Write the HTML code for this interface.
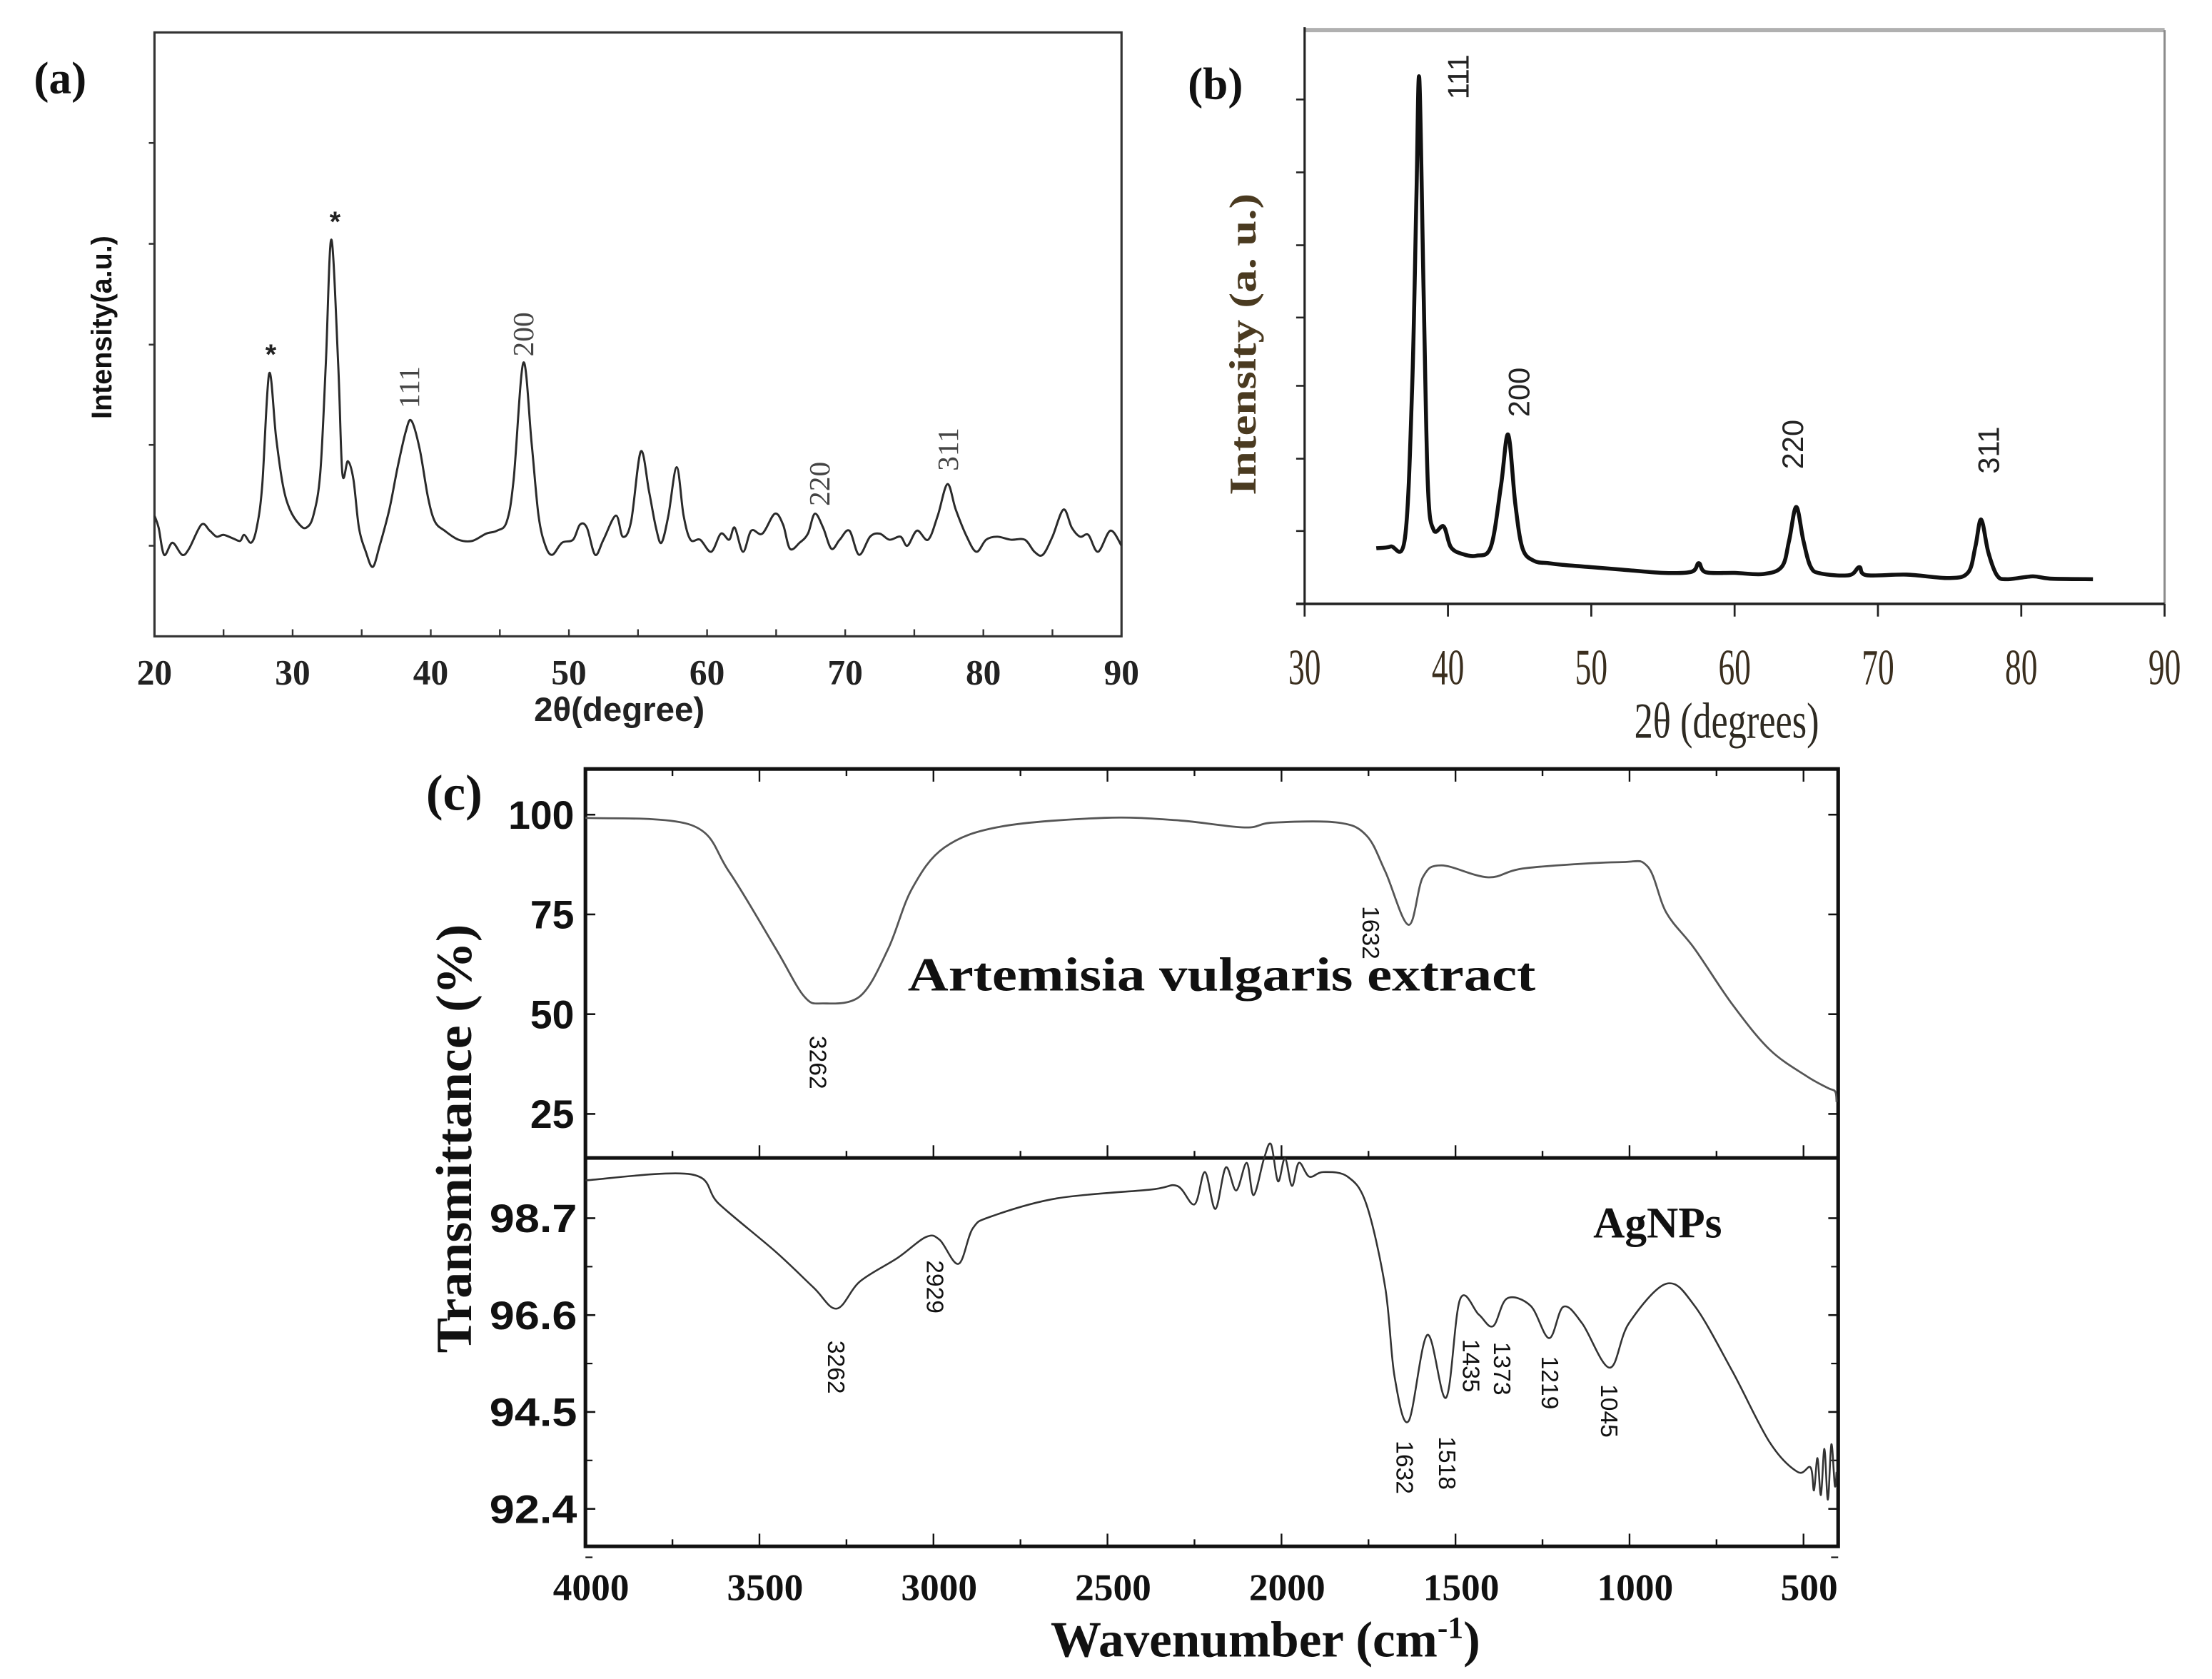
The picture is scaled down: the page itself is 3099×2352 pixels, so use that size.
<!DOCTYPE html>
<html><head><meta charset="utf-8"><style>
html,body{margin:0;padding:0;background:#fff;}
svg{display:block;}
.ser{font-family:"Liberation Serif",serif;font-weight:bold;}
.san{font-family:"Liberation Sans",sans-serif;}
</style></head><body>
<svg id="fig" width="3099" height="2352" viewBox="0 0 1568 1190" preserveAspectRatio="none" xmlns="http://www.w3.org/2000/svg">
<rect x="0" y="0" width="1568" height="1190" fill="#fff"/>
<g id="pa"></g>
<g id="pb"></g>
<g id="pc"></g>
</svg>
<script>
// ---------- Panel (a) data ----------
const aTheta = [20,20.3,20.7,21.3,22,22.5,23.4,24,24.5,25,25.7,26.2,26.5,27,27.4,27.8,28.3,28.8,29.3,29.8,30.5,31,31.5,32,32.4,32.8,33.3,33.6,34,34.4,34.8,35.3,35.8,36.3,37,37.6,38.2,38.6,39.2,39.8,40.3,41,42,43,44,44.8,45.5,46,46.7,47.3,47.8,48.3,48.8,49.5,50.3,50.8,51.3,51.9,52.5,53.4,53.9,54.5,55.2,55.8,56.3,56.7,57.2,57.8,58.3,58.8,59.5,60.3,61,61.6,62,62.6,63.2,64,64.9,65.5,66,66.7,67.3,67.8,68.4,69,69.6,70.3,71,71.8,72.5,73.2,74,74.5,75.2,76,76.7,77.4,78,78.8,79.5,80.2,81,82,83,83.7,84.3,85,85.8,86.4,87,87.6,88.3,89.2,90];
const aInt = [20,18,13.5,15.5,13.5,14.5,18.5,17.5,16.5,16.8,16.2,15.8,16.8,15.5,18,25,43.5,33,25,21,18.5,18,20,27,45,65.7,45,27,29,26,18,14,11.5,15,21,28,34,35.7,31,23,19,17.5,16,15.8,17,17.5,19,26,45.3,32,20,15,13.5,15.5,16,18.5,18,13.5,16,20,16.5,19,30.6,24,18,15.5,20,28,20,16,16,14,17,16,18,14,17.5,17,20.3,18.5,14.5,15.5,17,20.3,18,14.5,16,17.5,13.5,16.5,17,16,16.5,15,17.5,16,20,25.2,21,16.5,14,16,16.5,16,16,14,13.5,16.5,21,18,16.5,16.8,14,17.5,15];
const aXTicks = [20,30,40,50,60,70,80,90];
const aYTickVals = [15,31.7,48.3,65,81.7];
// ---------- Panel (b) data ----------
const bTheta = [35,36,37,37.5,37.8,38,38.3,38.6,39,39.7,40.2,41,42,43,43.7,44.2,44.7,45.2,46,47,48,50,52,55,57,57.5,58,60,62,63.3,63.8,64.3,64.8,65.3,66,68,68.7,69.2,72,75,76.3,76.8,77.2,77.7,78.3,79,80.8,82,85];
const bInt = [9.7,10,11.5,37.6,71,91.6,54.5,20.6,12.9,13.5,9.9,8.7,8.4,10,20.6,29.5,17.4,9.7,7.5,7.1,6.8,6.4,6,5.4,5.6,7.1,5.5,5.4,5.2,6.5,11,16.9,11,6.5,5.3,5,6.4,5,5.1,4.5,5.5,10,14.7,9,5,4.3,4.8,4.4,4.3];
const bXTicks = [30,40,50,60,70,80,90];
const bYTickVals = [87.9,75.2,62.5,49.9,38,25.3,12.7];
// ---------- Panel (c) data ----------
const cTopWn = [4000,3696,3588,3453,3372,3318,3211,3130,3062,2968,2807,2510,2300,2106,2025,1837,1756,1702,1635,1594,1540,1406,1298,1029,948,894,813,705,597,490,430,409,405];
const cTopT = [99.2,97.4,85.8,66.4,54.5,52.7,54.5,66.4,81.4,91.8,97,99.2,98.6,96.8,98,98,94.8,85.8,72.4,84.3,87.3,84.3,86.6,88.1,87,75.4,66.4,52.5,41.1,34.4,31.5,30.6,28];
const cBotWn = [4000,3696,3615,3453,3345,3278,3211,3103,3022,2982,2928,2887,2833,2645,2376,2300,2250,2220,2190,2160,2130,2100,2080,2050,2030,2010,1990,1970,1950,1920,1880,1810,1756,1702,1675,1635,1581,1527,1487,1433,1392,1352,1284,1231,1190,1136,1057,1002,894,813,705,597,517,480,470,460,450,440,430,420,410,405];
const cBotT = [99.52,99.65,99.0,97.97,97.2,96.74,97.33,97.84,98.29,98.23,97.71,98.48,98.74,99.13,99.32,99.4,99.0,99.7,98.9,99.8,99.3,99.9,99.2,100.0,100.3,99.5,100.0,99.4,99.9,99.6,99.7,99.6,99.0,97.2,95.26,94.3,96.17,94.81,96.94,96.61,96.36,96.96,96.8,96.1,96.78,96.42,95.46,96.42,97.28,96.8,95.39,93.84,93.2,93.3,92.8,93.5,92.7,93.7,92.6,93.8,92.9,93.2];
const cXTicks = [4000,3500,3000,2500,2000,1500,1000,500];
const cTopYTicks = [100,75,50,25];
const cBotYTicks = [98.7,96.6,94.5,92.4];

const NS='http://www.w3.org/2000/svg';
function mk(parent,tag,attrs,text){const e=document.createElementNS(NS,tag);for(const k in attrs)e.setAttribute(k,attrs[k]);if(text!==undefined)e.textContent=text;parent.appendChild(e);return e;}
// smooth Catmull-Rom path through the data points
function pathFrom(xs,ys,fx,fy){
 const P=xs.map((v,i)=>[fx(v),fy(ys[i])]);
 let d='M'+P[0][0].toFixed(2)+','+P[0][1].toFixed(2);
 for(let i=0;i<P.length-1;i++){
  const p0=P[Math.max(0,i-1)],p1=P[i],p2=P[i+1],p3=P[Math.min(P.length-1,i+2)];
  const c1=[p1[0]+(p2[0]-p0[0])/6,p1[1]+(p2[1]-p0[1])/6];
  const c2=[p2[0]-(p3[0]-p1[0])/6,p2[1]-(p3[1]-p1[1])/6];
  d+='C'+c1[0].toFixed(2)+','+c1[1].toFixed(2)+' '+c2[0].toFixed(2)+','+c2[1].toFixed(2)+' '+p2[0].toFixed(2)+','+p2[1].toFixed(2);
 }
 return d;}

// ===== Panel a =====
(function(){
const g=document.getElementById('pa');
const L=109.5,R=795,T=23,B=451;
const x=v=>L+(v-20)/70*(R-L);
const y=v=>B-v*4.28;
let e=mk(g,'rect',{x:L,y:T,width:R-L,height:B-T,fill:'none',stroke:'#333','stroke-width':1.6});

for(let v=25;v<90;v+=5){const t=mk(g,'line',{x1:x(v),x2:x(v),y1:B,y2:B-5,stroke:'#333','stroke-width':1.2});
 }
aYTickVals.forEach(v=>{const t=mk(g,'line',{x1:L-4,x2:L,y1:y(v),y2:y(v),stroke:'#333','stroke-width':1.3});
 });
aXTicks.forEach(v=>{const t=mk(g,'text',{x:x(v),y:485,'text-anchor':'middle','font-size':25,class:'ser',fill:'#222'},String(v));
 });
e=mk(g,'path',{d:pathFrom(aTheta,aInt,x,y),fill:'none',stroke:'#2a2a2a','stroke-width':1.5,'stroke-linejoin':'round'});

e=mk(g,'text',{x:439,y:511,'text-anchor':'middle','font-size':24,class:'san','font-weight':'bold',fill:'#222'},'2θ(degree)');

e=mk(g,'text',{x:0,y:0,'text-anchor':'middle','font-size':20,class:'san','font-weight':'bold',fill:'#111',transform:'translate(79,232) rotate(-90)'},'Intensity(a.u.)');

e=mk(g,'text',{x:24,y:66,'font-size':32,class:'ser',fill:'#111'},'(a)');

[[192,258],[237.5,164]].forEach(p=>{const s=mk(g,'text',{x:p[0],y:p[1],'text-anchor':'middle','font-size':20,class:'san','font-weight':'bold',fill:'#222'},'*');
 });
[['111',290,274.5],['200',371,237],['220',581,343],['311',672,318.5]].forEach(p=>{
 const s=mk(g,'text',{x:0,y:0,'text-anchor':'middle','font-size':21,'font-family':'"Liberation Serif",serif',fill:'#444',transform:`translate(${p[1]+7},${p[2]}) rotate(-90)`},p[0]);
 });
})();

// ===== Panel b =====
(function(){
const g=document.getElementById('pb');
const L=924.8,R=1534.4,T=21.3,B=428;
const x=v=>L+(v-30)/60*(R-L);
const y=v=>B-v*(B-T)/100;
let e=mk(g,'line',{x1:L,x2:R,y1:T,y2:T,stroke:'#b0b0b0','stroke-width':3});

e=mk(g,'line',{x1:R,x2:R,y1:T,y2:B,stroke:'#8a8a8a','stroke-width':1.5});

e=mk(g,'line',{x1:L,x2:L,y1:T-2,y2:B,stroke:'#222','stroke-width':1.6});

e=mk(g,'line',{x1:L-6,x2:R,y1:B,y2:B,stroke:'#222','stroke-width':1.8});

bXTicks.forEach(v=>{const t=mk(g,'line',{x1:x(v),x2:x(v),y1:B,y2:B+9,stroke:'#222','stroke-width':1.4});
 
 const l=mk(g,'text',{x:x(v),y:485,'text-anchor':'middle','font-size':36,'font-family':'"Liberation Serif",serif',fill:'#3a2e1e',textLength:23,lengthAdjust:'spacingAndGlyphs'},String(v));
 });
bYTickVals.forEach(v=>{const t=mk(g,'line',{x1:L-6,x2:L,y1:y(v),y2:y(v),stroke:'#222','stroke-width':1.3});
 });
e=mk(g,'path',{d:pathFrom(bTheta,bInt,x,y),fill:'none',stroke:'#111','stroke-width':2.8,'stroke-linejoin':'round'});

e=mk(g,'text',{x:1224,y:523,'text-anchor':'middle','font-size':36,'font-family':'"Liberation Serif",serif',fill:'#2e2a22',textLength:131,lengthAdjust:'spacingAndGlyphs'},'2θ (degrees)');

e=mk(g,'text',{x:0,y:0,'text-anchor':'middle','font-size':27,class:'ser',fill:'#4a3a20',textLength:214,lengthAdjust:'spacingAndGlyphs',transform:'translate(890,244) rotate(-90)'},'Intensity (a. u.)');

e=mk(g,'text',{x:842,y:70,'font-size':32,class:'ser',fill:'#111'},'(b)');

[['111',1034,54.5],['200',1077,278],['220',1271,315],['311',1410,319]].forEach(p=>{
 const s=mk(g,'text',{x:0,y:0,'text-anchor':'middle','font-size':21,class:'san',fill:'#222',transform:`translate(${p[1]+7},${p[2]}) rotate(-90)`},p[0]);
 });
})();

// ===== Panel c =====
(function(){
const g=document.getElementById('pc');
const L=415,R=1303,T=545,M=820.7,B=1096;
const x=w=>L+(4000-w)*0.2467;
const yt=v=>577.4+(100-v)*2.828;
const yb=v=>863.4+(98.7-v)*32.7;
let e=mk(g,'rect',{x:L,y:T,width:R-L,height:B-T,fill:'none',stroke:'#111','stroke-width':2.6});

e=mk(g,'line',{x1:L,x2:R,y1:M,y2:M,stroke:'#111','stroke-width':2.6});

for(let w=4000;w>=500;w-=250){const maj=(w%500===0);
 [[B,-1],[M,-1],[T,1]].forEach(p=>{const t=mk(g,'line',{x1:x(w),x2:x(w),y1:p[0],y2:p[0]+p[1]*(maj?9:5),stroke:'#111','stroke-width':1.2});
 });}
cXTicks.forEach(w=>{const l=mk(g,'text',{x:x(w)+4,y:1134,'text-anchor':'middle','font-size':27,class:'ser',fill:'#111'},String(w));
 });
cTopYTicks.forEach(v=>{[[L,1],[R,-1]].forEach(p=>{const t=mk(g,'line',{x1:p[0],x2:p[0]+p[1]*7,y1:yt(v),y2:yt(v),stroke:'#111','stroke-width':1.3});
 });
 const l=mk(g,'text',{x:407,y:yt(v)+10,'text-anchor':'end','font-size':28,class:'san','font-weight':'bold',fill:'#111'},String(v));
 });
cBotYTicks.forEach(v=>{[[L,1],[R,-1]].forEach(p=>{const t=mk(g,'line',{x1:p[0],x2:p[0]+p[1]*7,y1:yb(v),y2:yb(v),stroke:'#111','stroke-width':1.3});
 
 const m=mk(g,'line',{x1:p[0],x2:p[0]+p[1]*5,y1:yb(v-1.05),y2:yb(v-1.05),stroke:'#111','stroke-width':1.1});
 });
 const l=mk(g,'text',{x:409,y:yb(v)+10,'text-anchor':'end','font-size':28,class:'san','font-weight':'bold',fill:'#111',textLength:62,lengthAdjust:'spacingAndGlyphs'},v.toFixed(1));
 });
e=mk(g,'path',{d:pathFrom(cTopWn,cTopT,x,yt),fill:'none',stroke:'#555','stroke-width':1.4,'stroke-linejoin':'round'});

e=mk(g,'path',{d:pathFrom(cBotWn,cBotT,x,yb),fill:'none',stroke:'#333','stroke-width':1.3,'stroke-linejoin':'round'});

e=mk(g,'text',{x:866,y:702,'text-anchor':'middle','font-size':34,class:'ser',fill:'#111',textLength:445,lengthAdjust:'spacingAndGlyphs'},'Artemisia vulgaris extract');

e=mk(g,'text',{x:1175,y:877,'text-anchor':'middle','font-size':31,class:'ser',fill:'#111'},'AgNPs');

e=mk(g,'text',{x:897,y:1174,'text-anchor':'middle','font-size':36,class:'ser',fill:'#111'},'Wavenumber (cm');

const xt=e;
mk(xt,'tspan',{dy:-13,'font-size':22},'-1');
mk(xt,'tspan',{dy:13},')');
e=mk(g,'text',{x:0,y:0,'text-anchor':'middle','font-size':36,class:'ser',fill:'#111',textLength:304,lengthAdjust:'spacingAndGlyphs',transform:'translate(334,807) rotate(-90)'},'Transmittance (%)');

e=mk(g,'text',{x:302,y:574,'font-size':36,class:'ser',fill:'#111'},'(c)');

[['3262',580,753],['1632',972,661],['3262',593,969],['2929',663,912],['1632',996,1040],['1518',1026,1037],['1435',1043,968],['1373',1065,970],['1219',1099,980],['1045',1141,1000]].forEach(p=>{
 const s=mk(g,'text',{x:0,y:0,'text-anchor':'middle','font-size':17,class:'san',fill:'#111',transform:`translate(${p[1]-6},${p[2]}) rotate(90)`},p[0]);
 });
})();
</script>
</body></html>
